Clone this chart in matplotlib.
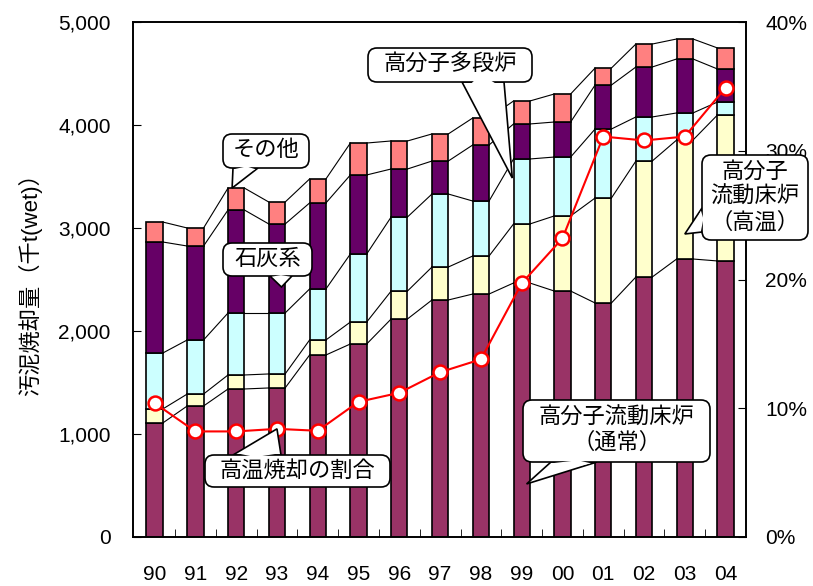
import numpy as np
import matplotlib
matplotlib.use('Agg')
from matplotlib import pyplot as plt
from matplotlib.ticker import FuncFormatter, FixedLocator
from matplotlib.patches import FancyBboxPatch, Polygon
from matplotlib.transforms import Affine2D

plt.rcParams['font.family'] = ['Liberation Sans', 'Noto Sans CJK JP']

# data
years = ['90', '91', '92', '93', '94', '95', '96', '97', '98', '99', '00', '01', '02', '03', '04']
fluid_normal = [1107, 1272, 1437, 1447, 1767, 1874, 2117, 2301, 2359, 2466, 2388, 2272, 2524, 2699, 2680]
fluid_hot = [136, 116, 136, 136, 146, 213, 271, 320, 369, 573, 729, 1019, 1126, 1155, 1417]
multi_stage = [543, 525, 602, 592, 495, 661, 719, 709, 534, 631, 572, 670, 428, 263, 126]
lime = [1078, 912, 1000, 864, 835, 767, 466, 320, 544, 340, 340, 427, 485, 524, 321]
other = [194, 175, 213, 213, 233, 310, 272, 263, 262, 223, 272, 165, 223, 194, 204]
hot_ratio = [10.4, 8.2, 8.2, 8.4, 8.25, 10.5, 11.2, 12.8, 13.8, 19.7, 23.2, 31.1, 30.8, 31.1, 34.9]

series = [fluid_normal, fluid_hot, multi_stage, lime, other]
colors = ['#993366', '#FFFFCC', '#CCFFFF', '#660066', '#FF8080']

x = np.arange(len(years))
w = 0.4

W, H = 813, 586
fig = plt.figure(figsize=(W/100, H/100), dpi=100)
ax = fig.add_axes([133/W, 1-537/H, (746-133)/W, (537-22)/H])

bottom = np.zeros(len(years))
for vals, c in zip(series, colors):
    vals = np.array(vals, dtype=float)
    ax.bar(x, vals, w, bottom=bottom, color=c, edgecolor='black', linewidth=1.2, zorder=3)
    top = bottom + vals
    # series lines between bars
    for i in range(len(x) - 1):
        ax.plot([x[i] + w/2, x[i+1] - w/2], [top[i], top[i+1]], color='black', lw=0.8, zorder=2)
    bottom = top

ax.set_xlim(-0.53, 14.5)
ax.set_ylim(0, 5000)
ax.set_yticks(range(0, 5001, 1000))
ax.yaxis.set_major_formatter(FuncFormatter(lambda v, p: f'{int(v):,}'))
ax.set_xticks(x)
ax.set_xticklabels(years)
ax.xaxis.set_minor_locator(FixedLocator(x[:-1] + 0.5))
ax.tick_params(axis='x', which='major', length=0, pad=20, labelsize=15)
ax.tick_params(axis='x', which='minor', direction='in', length=6)
ax.tick_params(axis='y', direction='in', length=6, pad=16, labelsize=15)
ax.set_ylabel('汚泥焼却量（千t(wet)）', fontsize=16, labelpad=12)

ax2 = ax.twinx()
ax2.plot(x, hot_ratio, color='red', lw=1.5, marker='o', markersize=10,
         markerfacecolor='white', markeredgecolor='red', markeredgewidth=1.8, zorder=5)
ax2.set_ylim(0, 40)
ax2.set_yticks(range(0, 41, 10))
ax2.yaxis.set_major_formatter(FuncFormatter(lambda v, p: f'{int(v)}%'))
ax2.tick_params(axis='y', direction='in', length=6, pad=14, labelsize=15)
for a in (ax, ax2):
    for s in a.spines.values():
        s.set_linewidth(1.2)

# callouts, laid out in image pixels (top-left origin)
pix = Affine2D().scale(1, -1).translate(0, H)

def to_img(trans, pt):
    dx, dy = trans.transform(pt)
    return dx, H - dy

def callout(text, box, base, tip):
    x0, y0, x1, y1 = box
    fig.add_artist(Polygon([base[0], tip, base[1]], closed=True, fc='white', ec='black',
                           lw=1.2, transform=pix, zorder=9))
    fig.add_artist(FancyBboxPatch((x0, y0), x1 - x0, y1 - y0,
                                  boxstyle='round,pad=0,rounding_size=9',
                                  fc='white', ec='black', lw=1.2, transform=pix, zorder=10))
    # white fill over the joint so the tail merges into the box
    (bx0, by0), (bx1, by1) = base
    cx, cy = (bx0 + bx1) / 2, (by0 + by1) / 2
    k = 0.85
    inner = [(cx + (bx0 - cx) * k + (tip[0] - cx) * 0.06, cy + (by0 - cy) * k + (tip[1] - cy) * 0.06),
             (cx + (tip[0] - cx) * 0.5, cy + (tip[1] - cy) * 0.5),
             (cx + (bx1 - cx) * k + (tip[0] - cx) * 0.06, cy + (by1 - cy) * k + (tip[1] - cy) * 0.06),
             (cx - (tip[0] - cx) * 0.08, cy - (tip[1] - cy) * 0.08)]
    fig.add_artist(Polygon(inner, closed=True, fc='white', ec='none', transform=pix, zorder=11))
    fig.text((x0 + x1) / 2, (y0 + y1) / 2, text, transform=pix, ha='center', va='center',
             fontsize=16, linespacing=1.25, zorder=12)

callout('高分子多段炉', (368, 48, 532, 82), [(462, 82), (504, 82)],
        to_img(ax.transData, (8.77, 3485)))
callout('その他', (223, 134, 309, 168), [(233, 168), (258, 168)],
        to_img(ax.transData, (1.9, 3388)))
callout('石灰系', (223, 243, 312, 276), [(270, 276), (292, 276)],
        to_img(ax.transData, (3.11, 2427)))
callout('高温焼却の割合', (205, 455, 390, 487), [(233, 455), (281, 455)],
        to_img(ax2.transData, (3, hot_ratio[3])))
callout('高分子流動床炉\n（通常）', (523, 400, 710, 462), [(551, 462), (597, 462)],
        to_img(ax.transData, (9.12, 515)))
callout('高分子\n流動床炉\n（高温）', (702, 155, 808, 240), [(702, 208), (702, 232)],
        to_img(ax.transData, (13.0, 2942)))

fig.savefig('out.png', dpi=100)
